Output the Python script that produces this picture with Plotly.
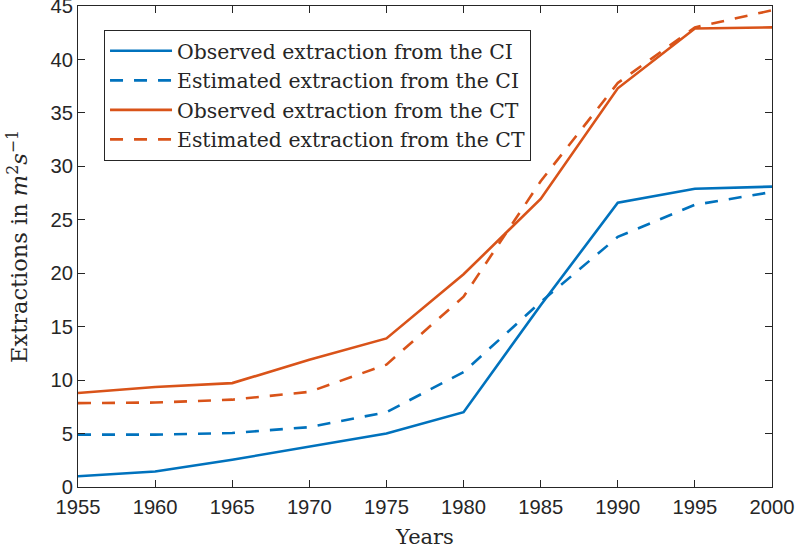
import plotly.graph_objects as go

years = [1955, 1960, 1965, 1970, 1975, 1980, 1985, 1990, 1995, 2000]
obs_ci = [1.0, 1.45, 2.55, 3.75, 5.0, 7.0, 17.0, 26.6, 27.9, 28.1]
est_ci = [4.9, 4.9, 5.05, 5.6, 7.0, 10.75, 17.3, 23.4, 26.4, 27.6]
obs_ct = [8.8, 9.35, 9.72, 11.9, 13.9, 19.9, 26.95, 37.3, 42.9, 43.0]
est_ct = [7.85, 7.9, 8.17, 8.9, 11.45, 17.8, 28.6, 37.8, 43.0, 44.6]

names = ["Observed extraction from the CI", "Estimated extraction from the CI",
         "Observed extraction from the CT", "Estimated extraction from the CT"]

BLUE = "#0072BD"
ORANGE = "#D95319"
AX = "#262626"
DASH = "13px,11px"
SERIF = "DejaVu Serif, Liberation Serif, serif"
SANS = "Liberation Sans, Arial, sans-serif"

fig = go.Figure()
for ys, nm, col, dash in [(obs_ci, names[0], BLUE, "solid"),
                          (est_ci, names[1], BLUE, DASH),
                          (obs_ct, names[2], ORANGE, "solid"),
                          (est_ct, names[3], ORANGE, DASH)]:
    fig.add_trace(go.Scatter(x=years, y=ys, mode="lines", name=nm,
                             line=dict(color=col, width=2.6, dash=dash)))

axis_common = dict(showline=True, linecolor=AX, linewidth=1, mirror="ticks",
                   ticks="inside", ticklen=7, tickcolor=AX, tickwidth=1,
                   showgrid=False, zeroline=False, automargin=False,
                   ticklabeloverflow="allow",
                   tickfont=dict(family=SANS, size=20.2, color=AX))

fig.update_xaxes(range=[1955, 2000], tickvals=list(range(1955, 2001, 5)),
                 ticklabelstandoff=2,
                 title=dict(text="Years", standoff=12,
                            font=dict(family=SERIF, size=21, color=AX)),
                 **axis_common)
fig.update_yaxes(range=[0, 45], tickvals=list(range(0, 46, 5)),
                 title=dict(text="Extractions in <i>m</i><sup>2</sup><i>s</i><sup>−1</sup>", standoff=16,
                            font=dict(family=SERIF, size=22.5, color=AX)),
                 **axis_common)

fig.update_layout(
    width=797, height=554,
    margin=dict(l=78, r=25, t=6, b=67),
    paper_bgcolor="white", plot_bgcolor="white",
    showlegend=True,
    legend=dict(x=0.0375, y=0.95, xanchor="left", yanchor="top",
                bordercolor=AX, borderwidth=1, bgcolor="white",
                itemwidth=62,
                font=dict(family=SERIF, size=20.4, color=AX),
                tracegroupgap=0),
)

fig.write_html("out.html", config={"displayModeBar": False},
               post_script="document.body.style.margin='0px';")
